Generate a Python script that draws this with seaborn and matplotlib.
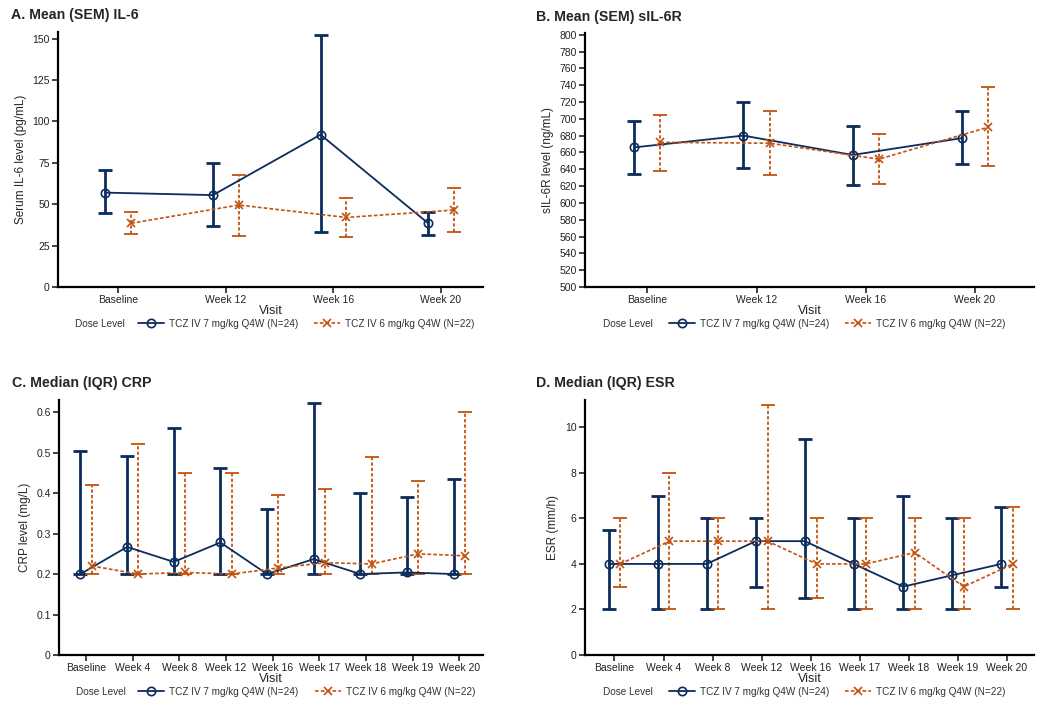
import numpy as np
import matplotlib
matplotlib.use('Agg')
import matplotlib.pyplot as plt
import seaborn as sns

sns.set_style('ticks')
plt.rcParams['font.family'] = ['Liberation Sans', 'DejaVu Sans']

# --- data ---
visits_a = ['Baseline', 'Week 12', 'Week 16', 'Week 20']
visits_c = ['Baseline', 'Week 4', 'Week 8', 'Week 12', 'Week 16', 'Week 17', 'Week 18', 'Week 19', 'Week 20']
groups = ['TCZ IV 7 mg/kg Q4W (N=24)', 'TCZ IV 6 mg/kg Q4W (N=22)']

il6_7 = [57, 55.5, 92, 38.5]
il6_7_lo = [44.5, 37, 33, 31.5]
il6_7_hi = [70.5, 75, 152, 45]
il6_6 = [38.5, 49.5, 42, 46.5]
il6_6_lo = [32, 31, 30, 33]
il6_6_hi = [45, 67.5, 54, 60]

sil6r_7 = [666, 680, 657, 677]
sil6r_7_lo = [634, 641, 621, 646]
sil6r_7_hi = [697, 720, 692, 709]
sil6r_6 = [672, 671, 652, 690]
sil6r_6_lo = [638, 633, 622, 644]
sil6r_6_hi = [705, 709, 682, 738]

crp_7 = [0.2, 0.267, 0.23, 0.278, 0.2, 0.237, 0.2, 0.204, 0.2]
crp_7_lo = [0.2, 0.2, 0.2, 0.2, 0.2, 0.2, 0.2, 0.2, 0.2]
crp_7_hi = [0.505, 0.492, 0.56, 0.462, 0.36, 0.622, 0.4, 0.39, 0.436]
crp_6 = [0.22, 0.2, 0.204, 0.2, 0.215, 0.228, 0.225, 0.25, 0.245]
crp_6_lo = [0.2, 0.2, 0.2, 0.2, 0.2, 0.2, 0.2, 0.2, 0.2]
crp_6_hi = [0.42, 0.522, 0.45, 0.45, 0.395, 0.41, 0.49, 0.43, 0.6]

esr_7 = [4, 4, 4, 5, 5, 4, 3, 3.5, 4]
esr_7_lo = [2, 2, 2, 3, 2.5, 2, 2, 2, 3]
esr_7_hi = [5.5, 7, 6, 6, 9.5, 6, 7, 6, 6.5]
esr_6 = [4, 5, 5, 5, 4, 4, 4.5, 3, 4]
esr_6_lo = [3, 2, 2, 2, 2.5, 2, 2, 2, 2]
esr_6_hi = [6, 8, 6, 11, 6, 6, 6, 6, 6.5]

navy = '#0b2c5c'
orange = '#c4520e'
dodge = 0.12


def plot_panel(ax, visits, s7, lo7, hi7, s6, lo6, hi6, title, ylabel, ylim, yticks, xlim):
    x = np.arange(len(visits))
    series = [
        (x - dodge, s7, lo7, hi7, navy, '-', 'o', 1.3, 2.0),
        (x + dodge, s6, lo6, hi6, orange, (0, (2.2, 1.3)), 'x', 1.2, 1.3),
    ]
    for (xp, m, lo, hi, c, ls, mk, lw, elw), lab in zip(series, groups):
        m = np.array(m)
        err = [m - np.array(lo), np.array(hi) - m]
        eb = ax.errorbar(xp, m, yerr=err, fmt='none', ecolor=c, elinewidth=elw,
                         capsize=5, capthick=elw, zorder=2)
        if ls != '-':
            eb[2][0].set_linestyle((0, (1.8, 1.2)))
        sns.lineplot(x=xp, y=m, ax=ax, color=c, linestyle=ls, linewidth=lw,
                     marker=mk, markersize=6, markerfacecolor='none' if mk == 'o' else c,
                     markeredgecolor=c, markeredgewidth=1.2, label=lab, zorder=3)
    ax.set_xticks(x)
    ax.set_xticklabels(visits, fontsize=7.5)
    ax.set_xlim(*xlim)
    ax.set_ylim(*ylim)
    ax.set_yticks(yticks)
    ax.set_yticklabels([f'{v:g}' for v in yticks], fontsize=7.5)
    ax.set_xlabel('Visit', fontsize=9, labelpad=0)
    ax.set_ylabel(ylabel, fontsize=8.5)
    ax.set_title(title, fontsize=10.2, fontweight='bold', loc='left', x=-0.11, pad=9)
    for sp in ['top', 'right']:
        ax.spines[sp].set_visible(False)
    for sp in ['left', 'bottom']:
        ax.spines[sp].set_linewidth(1.6)
        ax.spines[sp].set_color('black')
    ax.tick_params(width=1.2, length=4, pad=2, colors='#222222')
    leg = ax.legend(loc='center left', bbox_to_anchor=(0.178, -0.145), ncol=2, frameon=False,
                    fontsize=7.2, handlelength=2.6, columnspacing=1.6, handletextpad=0.5,
                    borderaxespad=0)
    for t in leg.get_texts():
        t.set_color('#333333')
    ax.text(0.04, -0.145, 'Dose Level', transform=ax.transAxes, fontsize=7.2,
            color='#333333', va='center')


fig = plt.figure(figsize=(10.51, 7.09), dpi=100)
axA = fig.add_axes([58 / 1051, 1 - 287 / 709, 425 / 1051, 255 / 709])
axB = fig.add_axes([585 / 1051, 1 - 287 / 709, 449 / 1051, 254 / 709])
axC = fig.add_axes([59 / 1051, 1 - 655 / 709, 424 / 1051, 255 / 709])
axD = fig.add_axes([585 / 1051, 1 - 655 / 709, 449 / 1051, 255 / 709])

plot_panel(axA, visits_a, il6_7, il6_7_lo, il6_7_hi, il6_6, il6_6_lo, il6_6_hi,
           'A. Mean (SEM) IL-6', 'Serum IL-6 level (pg/mL)', (0, 154),
           np.arange(0, 151, 25), (-0.56, 3.39))
plot_panel(axB, visits_a, sil6r_7, sil6r_7_lo, sil6r_7_hi, sil6r_6, sil6r_6_lo, sil6r_6_hi,
           'B. Mean (SEM) sIL-6R', 'sIL-6R level (ng/mL)', (500, 802),
           np.arange(500, 801, 20), (-0.57, 3.54))
plot_panel(axC, visits_c, crp_7, crp_7_lo, crp_7_hi, crp_6, crp_6_lo, crp_6_hi,
           'C. Median (IQR) CRP', 'CRP level (mg/L)', (0, 0.63),
           np.round(np.arange(0, 0.61, 0.1), 1), (-0.58, 8.51))
plot_panel(axD, visits_c, esr_7, esr_7_lo, esr_7_hi, esr_6, esr_6_lo, esr_6_hi,
           'D. Median (IQR) ESR', 'ESR (mm/h)', (0, 11.2),
           np.arange(0, 11, 2), (-0.6, 8.55))

fig.savefig('out.png', dpi=100)
